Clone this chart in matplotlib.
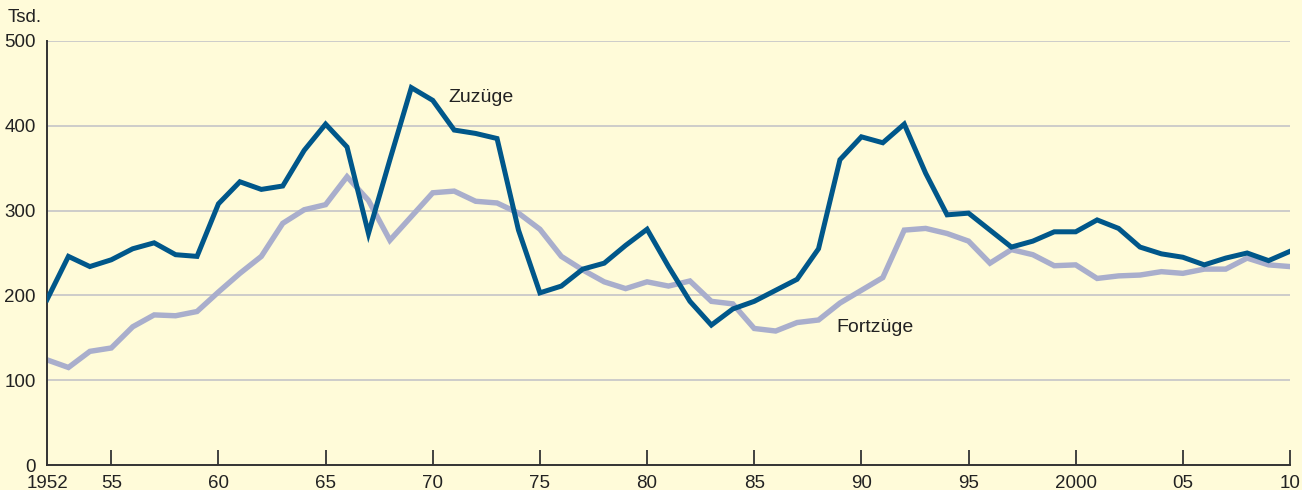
from matplotlib import pyplot as plt
import numpy as np

# Data (Tsd.)
years = np.arange(1952, 2011)
zuzuege = [
    195, 246, 234, 242, 255, 262, 248, 246, 308, 334,
    325, 329, 371, 402, 375, 273, 360, 445, 430, 395,
    391, 385, 277, 203, 211, 231, 238, 259, 278, 234,
    193, 165, 184, 193, 206, 219, 255, 360, 387, 380,
    402, 344, 295, 297, 277, 257, 264, 275, 275, 289,
    279, 257, 249, 245, 236, 244, 250, 241, 252,
]
fortzuege = [
    124, 115, 134, 138, 163, 177, 176, 181, 204, 226,
    246, 285, 301, 307, 340, 312, 265, 293, 321, 323,
    311, 309, 297, 278, 246, 230, 216, 208, 216, 211,
    217, 193, 190, 161, 158, 168, 171, 191, 206, 221,
    277, 279, 273, 264, 238, 254, 248, 235, 236, 220,
    223, 224, 228, 226, 231, 231, 244, 236, 234,
]
tick_years = [1952, 1955, 1960, 1965, 1970, 1975, 1980, 1985, 1990,
              1995, 2000, 2005, 2010]
tick_labels = ["1952", "55", "60", "65", "70", "75", "80", "85", "90",
               "95", "2000", "05", "10"]

BG = "#FFFBD9"
DARK = "#00578A"
LIGHT = "#A9AECC"
TEXT = "#222222"

plt.rcParams["font.family"] = ["Liberation Sans", "DejaVu Sans"]

fig = plt.figure(figsize=(13.02, 4.9), dpi=100, facecolor=BG)
ax = fig.add_axes([47 / 1302, 25 / 490, 1243 / 1302, 424 / 490])
ax.set_facecolor(BG)

# Gridlines
for v in range(100, 501, 100):
    ax.axhline(v, color="#C9C9C9", lw=1.3, zorder=1)

ax.plot(years, fortzuege, color=LIGHT, lw=3.9, zorder=2,
        solid_joinstyle="miter")
ax.plot(years, zuzuege, color=DARK, lw=3.6, zorder=3,
        solid_joinstyle="miter")

ax.set_xlim(1952, 2010)
ax.set_ylim(0, 500)

ax.set_yticks(range(0, 501, 100))
ax.tick_params(axis="y", length=0, pad=8, labelsize=13.5, labelcolor=TEXT)
ax.set_xticks(tick_years)
ax.set_xticklabels(tick_labels)
ax.tick_params(axis="x", direction="in", length=11, width=1.3,
               color="#333333", pad=7, labelsize=13.5, labelcolor=TEXT)
ax.xaxis.get_major_ticks()[0].tick1line.set_visible(False)

for side in ["top", "right"]:
    ax.spines[side].set_visible(False)
for side in ["left", "bottom"]:
    ax.spines[side].set_color("#333333")
    ax.spines[side].set_linewidth(1.4)

ax.text(1970.75, 433, "Zuzüge", fontsize=14, color=TEXT, va="center")
ax.text(1988.85, 162, "Fortzüge", fontsize=14, color=TEXT, va="center")
fig.text(8 / 1302, 1 - 18 / 490, "Tsd.", fontsize=13.5, color=TEXT,
         va="center")

fig.savefig("out.png", dpi=100, facecolor=BG)
